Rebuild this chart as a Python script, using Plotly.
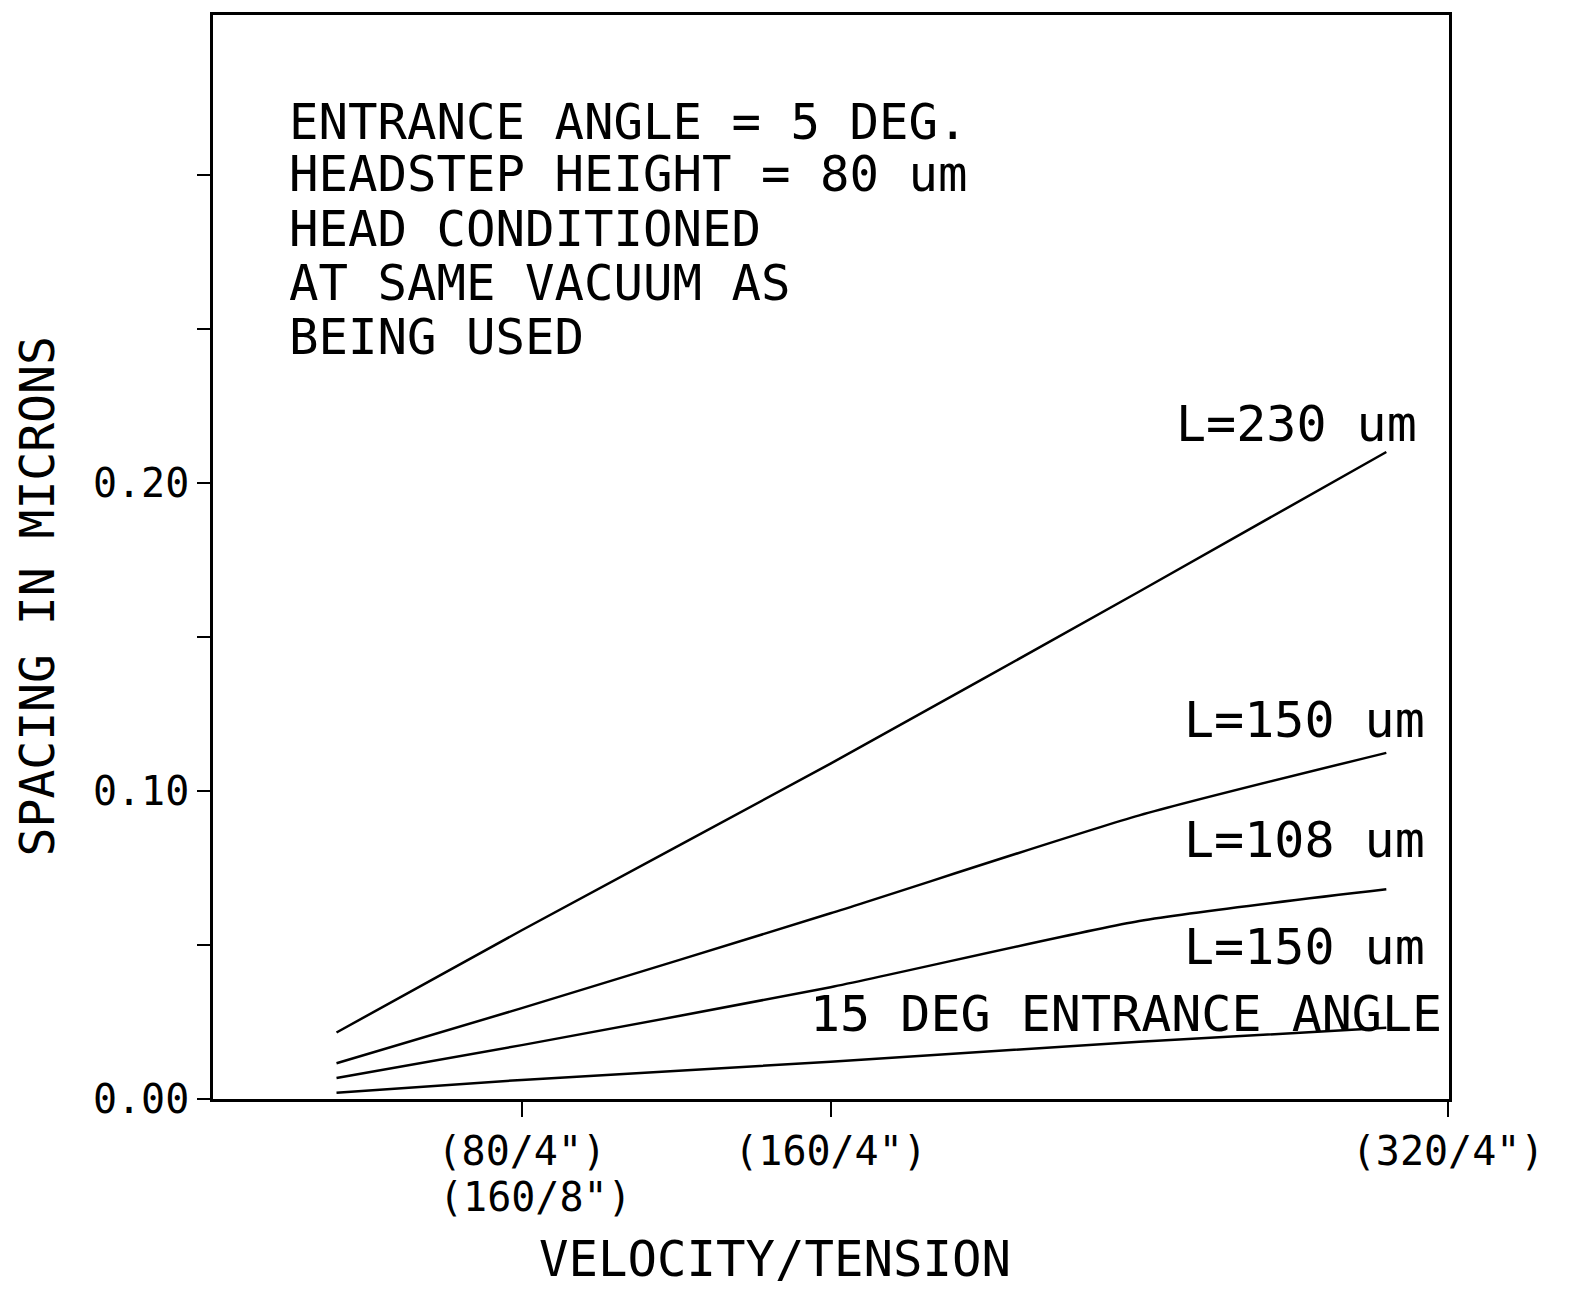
import plotly.graph_objects as go

# ---- data ----
x_vals = [0.4, 1.0, 2.0, 3.0, 3.8]
l230 = [0.0216, 0.0548, 0.1089, 0.1648, 0.2101]
l150 = [0.0116, 0.0295, 0.0603, 0.0921, 0.1124]
l108 = [0.0068, 0.0175, 0.0363, 0.0578, 0.0681]
l150_15deg = [0.0020, 0.0062, 0.0121, 0.0186, 0.0231]

x_tickvals = [1, 2, 4]
x_ticktext = ['(80/4")', '(160/4")', '(320/4")']
x_second_label = '(160/8")'
y_tickvals = [0.0, 0.05, 0.10, 0.15, 0.20, 0.25, 0.30]
y_ticktext = ["0.00", "", "0.10", "", "0.20", "", ""]

header_lines = ["ENTRANCE ANGLE = 5 DEG.", "HEADSTEP HEIGHT = 80 um",
                "HEAD CONDITIONED", "AT SAME VACUUM AS", "BEING USED"]
header_y = [0.3172, 0.3001, 0.2822, 0.2647, 0.2473]

curve_labels = ["L=230 um", "L=150 um", "L=108 um", "L=150 um", "15 DEG ENTRANCE ANGLE"]
curve_label_x = [3.113, 3.139, 3.139, 3.139, 1.926]
curve_label_y = [0.2191, 0.1232, 0.0841, 0.0494, 0.0277]

FONT = "DejaVu Sans Mono"

# page offset of the plot div (body margin)
OFF = 8
W, H = 1560, 1283
ML = 213 - OFF
MT = 12 - OFF
MB = H - (1099 - OFF)
MR = W - (1449 - OFF)
pw, ph = W - ML - MR, H - MT - MB


def px_to_paper(px, py):
    return ((px - OFF) - ML) / pw, (H - MB - (py - OFF)) / ph


fig = go.Figure()
for ys in [l230, l150, l108, l150_15deg]:
    fig.add_trace(go.Scatter(x=x_vals, y=ys, mode="lines",
                             line=dict(color="black", width=2.5, shape="spline", smoothing=0.6),
                             showlegend=False, hoverinfo="skip"))

annotations = []
for txt, yy in zip(header_lines, header_y):
    annotations.append(dict(x=0.2395, y=yy, xref="x", yref="y", text=txt,
                            showarrow=False, xanchor="left", yanchor="middle",
                            font=dict(family=FONT, size=49, color="black")))
for txt, xx, yy in zip(curve_labels, curve_label_x, curve_label_y):
    annotations.append(dict(x=xx, y=yy, xref="x", yref="y", text=txt,
                            showarrow=False, xanchor="left", yanchor="middle",
                            font=dict(family=FONT, size=50, color="black")))

ax, ay = px_to_paper(37, 595)
annotations.append(dict(x=ax, y=ay, xref="paper", yref="paper", text="SPACING IN MICRONS",
                        showarrow=False, textangle=-90, xanchor="center", yanchor="middle",
                        font=dict(family=FONT, size=48, color="black")))
bx, _ = px_to_paper(775, 0)
annotations.append(dict(x=bx, y=-MB / ph, xref="paper", yref="paper", text="VELOCITY/TENSION",
                        showarrow=False, xanchor="center", yanchor="bottom",
                        font=dict(family=FONT, size=49, color="black")))
_, sy = px_to_paper(0, 1197)
annotations.append(dict(x=(437 - 213) / 309.0, y=sy, xref="x", yref="paper", text=x_second_label,
                        showarrow=False, xanchor="left", yanchor="middle",
                        font=dict(family=FONT, size=40, color="black")))

fig.update_layout(
    width=W, height=H,
    margin=dict(l=ML, r=MR, t=MT, b=MB),
    paper_bgcolor="white", plot_bgcolor="white",
    annotations=annotations,
    xaxis=dict(range=[0, 4.003], tickvals=x_tickvals, ticktext=x_ticktext,
               showline=True, linecolor="black", linewidth=2.5, mirror=True,
               ticks="outside", ticklen=15, tickwidth=2, tickcolor="black",
               showgrid=False, zeroline=False,
               tickfont=dict(family=FONT, size=40, color="black")),
    yaxis=dict(range=[0, 0.352], tickvals=y_tickvals, ticktext=y_ticktext,
               showline=True, linecolor="black", linewidth=2.5, mirror=True,
               ticks="outside", ticklen=13, tickwidth=2, tickcolor="black",
               showgrid=False, zeroline=False,
               tickfont=dict(family=FONT, size=40, color="black")),
)

fig.write_html("out.html")
